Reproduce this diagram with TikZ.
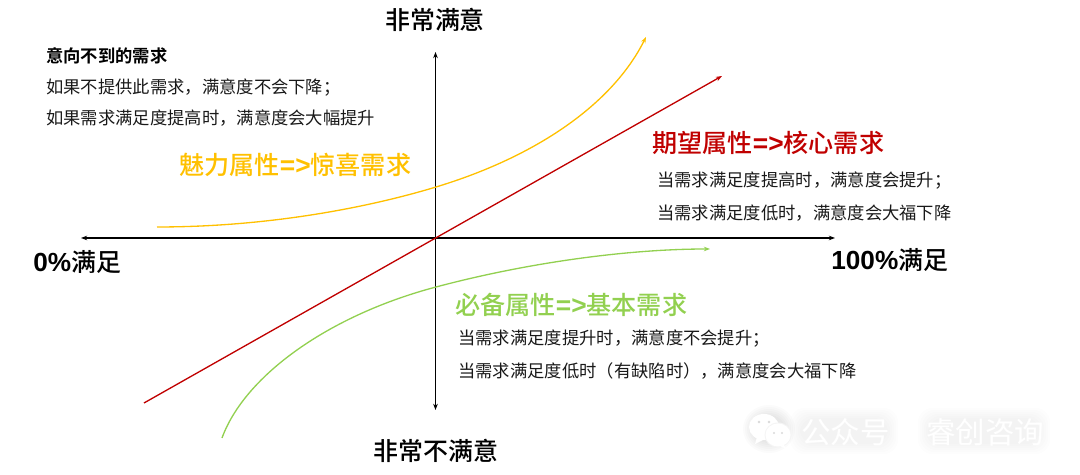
\documentclass[tikz,border=0pt]{standalone}
\usepackage{fontspec}
\setmainfont[BoldFont={Noto Sans CJK SC Medium}]{Noto Sans CJK SC}
\newfontfamily\latinfont[Scale=1.05]{Liberation Sans}
\newfontfamily\titlefont{Noto Sans CJK SC Bold}
\usetikzlibrary{arrows.meta}

\definecolor{charmyellow}{HTML}{FFC000}
\definecolor{corered}{HTML}{C00000}
\definecolor{basicgreen}{HTML}{92D050}

\tikzset{
  axisline/.style={black,line width=0.65pt,<->},
  curveline/.style={line width=0.75pt,->},
  axislabel/.style={inner sep=0pt,font=\fontsize{14.2}{16}\selectfont\bfseries},
  headlabel/.style={inner sep=0pt,anchor=west,font=\fontsize{14.3}{16}\selectfont\bfseries},
  bodylabel/.style={inner sep=0pt,anchor=west,text=black!90,font=\fontsize{9.85}{12}\selectfont},
  marklabel/.style={inner sep=0pt,anchor=west,text=white,font=\fontsize{16.8}{20}\selectfont},
}

\begin{document}
\begin{tikzpicture}[x=0.02cm,y=-0.02cm,>={Stealth[length=3.5pt,width=2.6pt]}]

\useasboundingbox (0,0) rectangle (1080,475);

% -------- Watermark -----------
\foreach \g in {0,2,4,6,8,10} {
  \fill [black,opacity=0.006,rounded corners=8] (790+\g,408+\g) rectangle (898-\g,454-\g);
  \fill [black,opacity=0.006,rounded corners=8] (918+\g,408+\g) rectangle (1050-\g,454-\g);
  \fill [black,opacity=0.015] (769,429) ellipse ({26-\g} and {24-\g});
}
\fill [white] (764,427) ellipse (15 and 13);
\fill [white] (757,437) -- (755,444) -- (765,439) -- cycle;
\fill [black!4] (778,435) ellipse (13.5 and 12.5);
\fill [white] (778,435) ellipse (12.5 and 11.5);
\fill [white] (784,445) -- (786,449) -- (780,446) -- cycle;
\fill [black!15] (759,422) circle (1.4);
\fill [black!15] (769,422) circle (1.4);
\fill [black!15] (774,433) circle (1.2);
\fill [black!15] (782,433) circle (1.2);
\node (markone) [marklabel] at (801,432) {公众号};
\node (marktwo) [marklabel] at (926,432) {睿创咨询};

% -------- Axes -----------
\coordinate (left)   at (81,238);
\coordinate (right)  at (835,238);
\coordinate (top)    at (435.5,52);
\coordinate (bottom) at (435.5,410);

\draw [axisline] (left) -- (right);
\draw [axisline] (bottom) -- (top);

\node (topname)    [axislabel] at (435,20)  {非常满意};
\node (bottomname) [axislabel] at (436,451) {非常不满意};
\node (leftname)   [axislabel,anchor=west] at (33,262)  {{\latinfont 0\%}满足};
\node (rightname)  [axislabel,anchor=west] at (831,260) {{\latinfont 100\%}满足};

% -------- Curves -----------
\coordinate (redstart) at (144,403);
\coordinate (redend)   at (722,76);
\coordinate (yelstart) at (157,227);
\coordinate (yelmid)   at (436,187);
\coordinate (yelend)   at (646,37);
\coordinate (grnstart) at (222,438);
\coordinate (grnmid)   at (436,287);
\coordinate (grnend)   at (710,249);

\draw [curveline,corered] (redstart) -- (redend);
\draw [curveline,charmyellow] (yelstart) .. controls (270,227) and (370,207) .. (yelmid)
      .. controls (535,157) and (612,105) .. (yelend);
\draw [curveline,basicgreen] (grnstart) .. controls (245,375) and (330,315) .. (grnmid)
      .. controls (530,262) and (630,249) .. (grnend);

% -------- Top left text -----------
\node (charmtitle) [bodylabel,text=black,font=\fontsize{9.85}{12}\selectfont\titlefont] at (46,56) {意向不到的需求};
\node (charmone)   [bodylabel] at (46,88)  {如果不提供此需求，满意度不会下降；};
\node (charmtwo)   [bodylabel] at (46,118) {如果需求满足度提高时，满意度会大幅提升};
\node (charmhead)  [headlabel,text=charmyellow] at (179,165) {魅力属性{\latinfont =>}惊喜需求};

% -------- Right text -----------
\node (corehead) [headlabel,text=corered] at (652,143) {期望属性{\latinfont =>}核心需求};
\node (coreone)  [bodylabel] at (657,181) {当需求满足度提高时，满意度会提升；};
\node (coretwo)  [bodylabel] at (657,213) {当需求满足度低时，满意度会大福下降};

% -------- Bottom text -----------
\node (basehead) [headlabel,text=basicgreen] at (455,305) {必备属性{\latinfont =>}基本需求};
\node (baseone)  [bodylabel] at (458,339) {当需求满足度提升时，满意度不会提升；};
\node (basetwo)  [bodylabel] at (458,371) {当需求满足度低时（有缺陷时），满意度会大福下降};

\end{tikzpicture}
\end{document}
